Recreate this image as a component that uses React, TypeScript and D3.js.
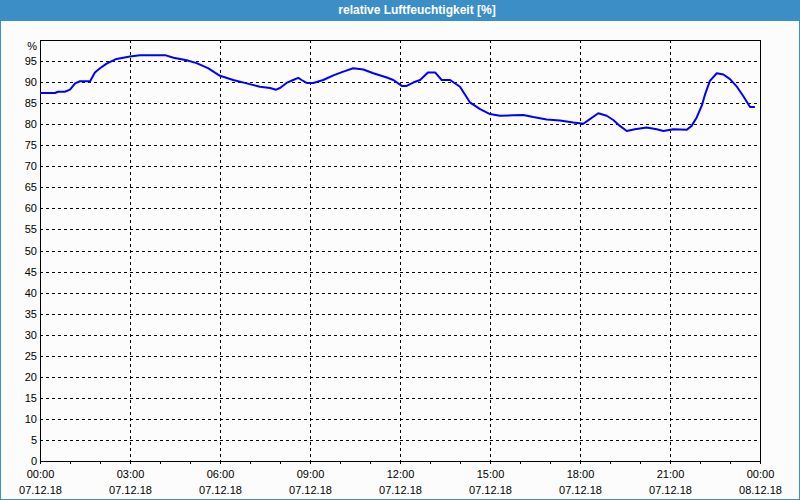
import React from "react";
import * as d3 from "d3";

const title = "relative Luftfeuchtigkeit [%]";
const hours = [0, 0.5, 0.6, 0.83, 1.0, 1.17, 1.33, 1.67, 1.83, 2.0, 2.22, 2.55, 3.0, 3.33, 4.17, 4.45, 4.89, 5.22, 5.6, 6.0, 6.44, 6.89, 7.33, 7.67, 7.87, 8.0, 8.22, 8.44, 8.61, 8.72, 8.89, 9.11, 9.44, 9.78, 10.11, 10.44, 10.78, 11.11, 11.56, 11.78, 12.06, 12.22, 12.44, 12.67, 12.93, 13.17, 13.39, 13.67, 14.0, 14.33, 14.67, 15.0, 15.33, 15.78, 16.11, 16.44, 16.89, 17.33, 17.78, 18.11, 18.33, 18.61, 18.89, 19.11, 19.33, 19.56, 19.83, 20.22, 20.56, 20.78, 21.11, 21.56, 21.72, 21.89, 22.06, 22.17, 22.33, 22.56, 22.78, 23.0, 23.22, 23.44, 23.67, 23.83];
const humidity = [87.4, 87.4, 87.7, 87.7, 88.2, 89.7, 90.2, 90.2, 92.3, 93.3, 94.4, 95.5, 96.1, 96.4, 96.4, 95.8, 95.2, 94.5, 93.3, 91.5, 90.5, 89.7, 88.9, 88.6, 88.2, 88.6, 89.8, 90.5, 91.0, 90.5, 89.8, 89.8, 90.5, 91.6, 92.5, 93.3, 93.0, 92.1, 91.1, 90.5, 89.1, 89.1, 89.9, 90.5, 92.3, 92.3, 90.5, 90.5, 88.9, 85.2, 83.6, 82.4, 82.0, 82.1, 82.2, 81.7, 81.1, 80.9, 80.4, 80.1, 81.2, 82.6, 82.0, 81.0, 79.6, 78.4, 78.8, 79.2, 78.8, 78.4, 78.8, 78.7, 79.6, 81.6, 84.4, 87.1, 90.3, 92.1, 91.8, 90.7, 89.0, 86.7, 84.1, 84.1];
const xTickHours = [0, 3, 6, 9, 12, 15, 18, 21, 24];
const xTimeLabels = ["00:00", "03:00", "06:00", "09:00", "12:00", "15:00", "18:00", "21:00", "00:00"];
const xDateLabels = ["07.12.18", "07.12.18", "07.12.18", "07.12.18", "07.12.18", "07.12.18", "07.12.18", "07.12.18", "08.12.18"];
const yTicks = d3.range(0, 100, 5);
const yUnit = "%";

const W = 800, H = 500;
const left = 40, right = 760, top = 40, bottom = 461;
const font = "'Liberation Sans', Arial, sans-serif";

export default function App() {
  const x = d3.scaleLinear().domain([0, 24]).range([left, right]);
  const y = d3.scaleLinear().domain([0, 100]).range([bottom, top]);
  const line = d3.line<number>().x((_, i) => x(hours[i])).y((d) => y(d)).curve(d3.curveLinear);
  const minor = d3.range(0, 25, 1);
  const r = (v: number) => Math.round(v) + 0.5;

  return (
    <svg width={W} height={H} style={{ position: "absolute", left: 0, top: 0, display: "block" }} fontFamily={font}>
      <rect x={0} y={0} width={W} height={H} fill="#fbfcfb" />
      <rect x={0} y={0} width={W} height={21} fill="#3c8fc6" />
      <rect x={0.5} y={0.5} width={W - 1} height={H - 1} fill="none" stroke="#3c8fc6" />
      <text x={417} y={14} fill="#ffffff" fontSize={12} fontWeight="bold" textAnchor="middle">{title}</text>

      {/* horizontal grid */}
      {yTicks.filter((v) => v > 0).map((v) => (
        <line key={"h" + v} x1={left} x2={right} y1={r(y(v))} y2={r(y(v))} stroke="#000" strokeDasharray="3,3" shapeRendering="crispEdges" />
      ))}
      {/* vertical grid */}
      {xTickHours.filter((h) => h > 0 && h < 24).map((h) => (
        <line key={"v" + h} x1={r(x(h))} x2={r(x(h))} y1={top} y2={bottom} stroke="#000" strokeDasharray="3,3" shapeRendering="crispEdges" />
      ))}
      {/* frame */}
      <rect x={left + 0.5} y={top + 0.5} width={right - left} height={bottom - top} fill="none" stroke="#000" shapeRendering="crispEdges" />
      {/* minor ticks */}
      {minor.map((h) => (
        <line key={"t" + h} x1={r(x(h))} x2={r(x(h))} y1={bottom} y2={bottom + 3} stroke="#000" shapeRendering="crispEdges" />
      ))}

      {/* data */}
      <path d={line(humidity) || ""} fill="none" stroke="#0000ff" strokeWidth={2} strokeLinejoin="round" />

      {/* y labels */}
      {yTicks.map((v) => (
        <text key={"yl" + v} x={37} y={y(v) + 4} fontSize={11} textAnchor="end" fill="#000">{v}</text>
      ))}
      <text x={37} y={50} fontSize={11} textAnchor="end" fill="#000">{yUnit}</text>

      {/* x labels */}
      {xTickHours.map((h, i) => (
        <g key={"xl" + i}>
          <text x={x(h) + 0.5} y={478} fontSize={11} textAnchor="middle" fill="#000">{xTimeLabels[i]}</text>
          <text x={x(h) + 0.5} y={494} fontSize={11} textAnchor="middle" fill="#000">{xDateLabels[i]}</text>
        </g>
      ))}
    </svg>
  );
}
